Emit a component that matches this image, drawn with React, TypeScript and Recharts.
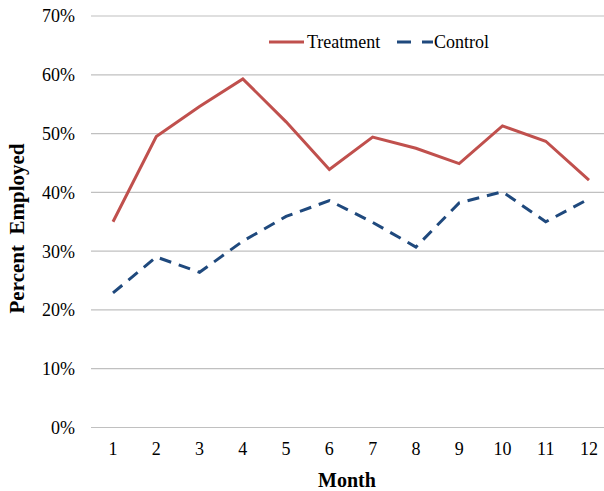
import React from "react"
import { CartesianGrid, Line, LineChart, XAxis, YAxis } from "recharts"

const months = ["1", "2", "3", "4", "5", "6", "7", "8", "9", "10", "11", "12"]
const treatment = [35.0, 49.5, 54.6, 59.3, 52.0, 43.9, 49.4, 47.5, 44.9, 51.3, 48.7, 42.1]
const control = [22.9, 29.0, 26.4, 31.7, 35.9, 38.6, 34.9, 30.7, 38.2, 40.1, 35.0, 38.9]
const yTicks = [0, 10, 20, 30, 40, 50, 60, 70]
const seriesNames = ["Treatment", "Control"]

const data = months.map((m, i) => ({ month: m, treatment: treatment[i], control: control[i] }))

const FONT = "'Liberation Serif', 'Times New Roman', serif"
const RED = "#C0504D"
const BLUE = "#1F497D"
const tickStyle = { fontFamily: FONT, fontSize: 18, fill: "#000" }

function ChartLegend() {
  return (
    <svg
      width={240}
      height={24}
      style={{ position: "absolute", left: 268, top: 30 }}
    >
      <line x1={1} y1={12} x2={36} y2={12} stroke={RED} strokeWidth={3} />
      <text x={39} y={18} style={tickStyle}>
        {seriesNames[0]}
      </text>
      <line x1={129} y1={12} x2={165} y2={12} stroke={BLUE} strokeWidth={3} strokeDasharray="14 11" />
      <text x={166} y={18} style={tickStyle}>
        {seriesNames[1]}
      </text>
    </svg>
  )
}

function YTitle() {
  return (
    <text
      transform="translate(23.5, 228.5) rotate(-90)"
      textAnchor="middle"
      style={{ fontFamily: FONT, fontSize: 21, fontWeight: "bold", fill: "#000", whiteSpace: "pre" }}
    >
      {"Percent  Employed"}
    </text>
  )
}

export default function App() {
  return (
    <div
      style={{
        position: "absolute",
        left: 0,
        top: 0,
        width: 604,
        height: 491,
        overflow: "hidden",
        background: "#fff",
      }}
    >
      <LineChart
        width={620}
        height={491}
        data={data}
        margin={{ top: 16, right: 9, left: 0, bottom: 0 }}
      >
        <CartesianGrid vertical={false} stroke="#C0C0C0" strokeWidth={1.2} />
        <XAxis
          dataKey="month"
          height={63.5}
          axisLine={false}
          tickLine={false}
          tickMargin={9}
          padding={{ left: 22, right: 22 }}
          tick={tickStyle}
          label={{
            value: "Month",
            position: "insideBottom",
            offset: 4,
            dx: -4,
            style: { fontFamily: FONT, fontSize: 20, fontWeight: "bold", fill: "#000" },
          }}
        />
        <YAxis
          width={91}
          domain={[0, 70]}
          ticks={yTicks}
          axisLine={false}
          tickLine={false}
          tickMargin={10}
          tickFormatter={(v: number) => `${v}%`}
          tick={tickStyle}
          label={{ content: () => <YTitle /> }}
        />
        <Line
          dataKey="treatment"
          name={seriesNames[0]}
          stroke={RED}
          strokeWidth={3}
          dot={false}
          isAnimationActive={false}
        />
        <Line
          dataKey="control"
          name={seriesNames[1]}
          stroke={BLUE}
          strokeWidth={3}
          strokeDasharray="12 8"
          dot={false}
          isAnimationActive={false}
        />
      </LineChart>
      <ChartLegend />
    </div>
  )
}
